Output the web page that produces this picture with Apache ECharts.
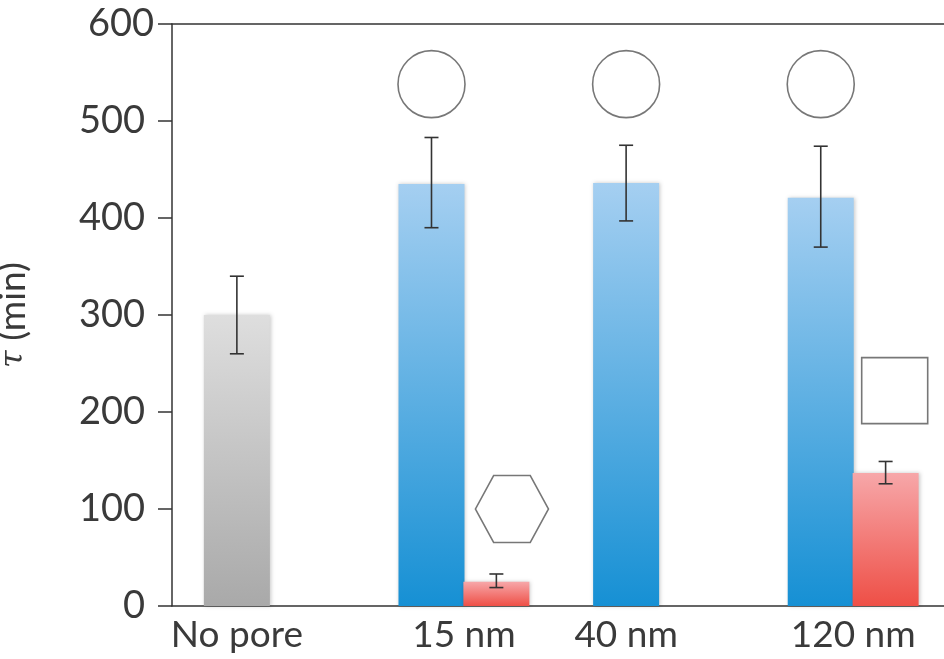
<!DOCTYPE html>
<html>
<head>
<meta charset="utf-8">
<script src="https://cdn.jsdelivr.net/npm/echarts@6/dist/echarts.min.js"></script>
<style>html,body{margin:0;padding:0;background:#fff}#c{width:944px;height:659px}</style>
</head>
<body>
<div id="c"></div>
<script>
// ---- data ----
var categories = ['No pore', '15 nm', '40 nm', '120 nm'];
var categorySlots = [2, 9, 14, 21];           // slot index of each category label
var barSlots  = [2, 8, 10, 14, 20, 22];       // slot index of each bar
var barKinds  = ['none', 'sphere', 'hex', 'sphere', 'sphere', 'cube'];
var barValues = [300, 435, 25, 436, 421, 137];
var errLow    = [260, 390, 19, 397, 370, 126];
var errHigh   = [340, 483, 33, 475, 474, 149];
var shapeSlots  = [8, 14, 20, 10.48, 22.28];
var shapeValues = [538, 538, 538, 100, 222];
var shapeKinds  = ['circle', 'circle', 'circle', 'hexagon', 'square'];
var yTicks = [0, 100, 200, 300, 400, 500, 600];

var kindColors = {
  none:   ['#dedede', '#a9a9a9'],
  sphere: ['#a5cff1', '#1690d4'],
  hex:    ['#f7a7a9', '#ee4f46'],
  cube:   ['#f7a7a9', '#ee4f46']
};
function grad(k) {
  return {type: 'linear', x: 0, y: 0, x2: 0, y2: 1,
    colorStops: [{offset: 0, color: kindColors[k][0]}, {offset: 1, color: kindColors[k][1]}]};
}
var barData = barSlots.map(function (s, i) {
  return {value: [s, barValues[i]], itemStyle: {color: grad(barKinds[i])}};
});
var errData = barSlots.map(function (s, i) { return [s, errLow[i], errHigh[i]]; });
var symbolMap = {
  circle: {symbol: 'circle', size: 67},
  hexagon: {symbol: 'path://M0,50 L25,0 L75,0 L100,50 L75,100 L25,100 Z', size: [73, 67]},
  square: {symbol: 'rect', size: [66, 66]}
};
var shapeData = shapeSlots.map(function (s, i) {
  var m = symbolMap[shapeKinds[i]];
  return {value: [s, shapeValues[i]], symbol: m.symbol, symbolSize: m.size};
});

var FONT = 'Lato';
var TXT = '#3a3a3a';
var chart = echarts.init(document.getElementById('c'), null, {renderer: 'canvas'});
chart.setOption({
  animation: false,
  grid: {left: 172, right: 0, top: 24, bottom: 53, outerBoundsMode: 'none', containLabel: false},
  xAxis: [{
    type: 'value', min: 0, max: 23.8, interval: 1,
    axisLine: {show: true, onZero: false, lineStyle: {color: '#333', width: 1.5}},
    axisTick: {show: false},
    splitLine: {show: false},
    axisLabel: {
      show: true, margin: 11, color: TXT, fontFamily: FONT, fontSize: 37,
      showMinLabel: true, showMaxLabel: false,
      formatter: function (v) {
        var idx = categorySlots.indexOf(Math.round(v));
        return (idx >= 0 && Math.abs(v - Math.round(v)) < 1e-6) ? categories[idx] : '';
      }
    }
  }, {
    type: 'value', position: 'top', min: 0, max: 23.8,
    axisLine: {show: true, onZero: false, lineStyle: {color: '#333', width: 1.5}},
    axisTick: {show: false}, axisLabel: {show: false}, splitLine: {show: false}
  }],
  yAxis: {
    type: 'value', min: 0, max: 600, interval: 100,
    name: '{t|\u03c4} (min)', nameLocation: 'middle', nameGap: 140, nameRotate: 90,
    nameTextStyle: {color: TXT, fontFamily: FONT, fontSize: 37,
      rich: {t: {fontStyle: 'italic', fontFamily: 'DejaVu Serif', fontSize: 32, color: TXT}}},
    axisLine: {show: true, lineStyle: {color: '#333', width: 1.5}},
    axisTick: {show: true, length: 14, inside: false, lineStyle: {color: '#333', width: 1.5}},
    splitLine: {show: false},
    axisLabel: {
      margin: 18, color: TXT, fontFamily: FONT, fontSize: 38,
      rich: {
        p: {padding: [0, 9, 0, 0], color: TXT, fontFamily: FONT, fontSize: 38},
        q: {color: TXT, fontFamily: FONT, fontSize: 38}
      },
      formatter: function (v) {
        if (yTicks.indexOf(v) < 0) return '';
        return v === yTicks[yTicks.length - 1] ? '{q|' + v + '}' : '{p|' + v + '}';
      }
    }
  },
  series: [{
    type: 'bar', data: barData, barWidth: 66,
    itemStyle: {shadowBlur: 4, shadowColor: 'rgba(0,0,0,0.22)', shadowOffsetX: 1}
  }, {
    type: 'custom', data: errData, z: 5,
    renderItem: function (params, api) {
      var x = api.value(0);
      var lo = api.coord([x, api.value(1)]);
      var hi = api.coord([x, api.value(2)]);
      var st = {stroke: '#333', lineWidth: 1.6};
      var h = 7;
      return {type: 'group', children: [
        {type: 'line', shape: {x1: lo[0], y1: lo[1], x2: hi[0], y2: hi[1]}, style: st},
        {type: 'line', shape: {x1: lo[0] - h, y1: lo[1], x2: lo[0] + h, y2: lo[1]}, style: st},
        {type: 'line', shape: {x1: hi[0] - h, y1: hi[1], x2: hi[0] + h, y2: hi[1]}, style: st}
      ]};
    }
  }, {
    type: 'scatter', data: shapeData, z: 6,
    itemStyle: {color: '#fff', borderColor: '#555', borderWidth: 1.6}
  }]
});
</script>
</body>
</html>
